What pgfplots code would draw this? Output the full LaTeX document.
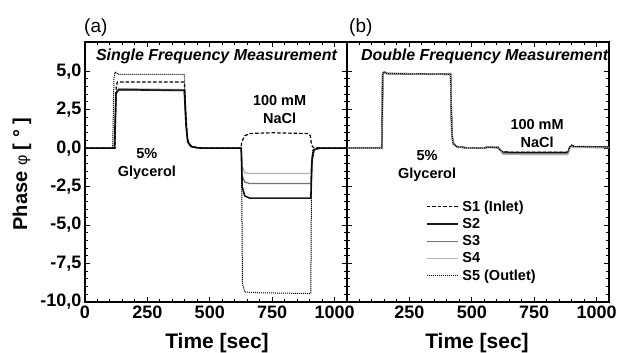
\documentclass[border=0pt]{standalone}
\usepackage{fontspec}
\setmainfont{Liberation Sans}
\usepackage{pgfplots}
\pgfplotsset{compat=1.18}
\pgfplotsset{
  myax/.style={
    scale only axis, width=262pt, height=260pt,
    xmin=0, xmax=1050, ymin=-10, ymax=6.9,
    axis line style={line width=1.3pt},
    tick align=inside, tick pos=both,
    major tick length=5pt, minor tick length=3pt,
    every tick/.style={black, line width=1pt},
    xtick={0,250,500,750,1000},
    minor x tick num=4,
    ytick={-10,-7.5,-5,-2.5,0,2.5,5},
    minor y tick num=4,
    ticklabel style={font=\fontsize{18}{18}\selectfont\bfseries},
    clip=true,
  },
  s1/.style={black, line width=1.2pt, dash pattern=on 3.5pt off 2pt},
  s2/.style={black!90, line width=1.6pt},
  s3/.style={black!55, line width=1.3pt},
  s4/.style={black!30, line width=1.3pt},
  s5/.style={black, line width=1pt, dash pattern=on 1.1pt off 0.9pt},
}
\newcommand{\lab}{\fontsize{14.5}{18}\selectfont\bfseries}
\begin{document}
\begin{tikzpicture}
\path[use as bounding box] (-85pt,-51pt) rectangle (533pt,302pt);
% ---------------- panel (a)
\begin{axis}[myax, at={(0pt,0pt)}, anchor=south west,
  yticklabels={{-10,0},{-7,5},{-5,0},{-2,5},{0,0},{2,5},{5,0}},
  xticklabels={0,250,500,750,1000}]
\addplot[s4] coordinates {(0,0)(119,0)(125,3.5)(135,3.75)(398,3.75)(405,1.4)(412,0.4)(425,0.1)(460,0)(626,0)(630,-1.2)(640,-1.6)(660,-1.65)(905,-1.65)(910,-0.5)(918,-0.1)(940,0)(1050,0)};
\addplot[s3] coordinates {(0,0)(119,0)(125,3.6)(135,3.85)(398,3.8)(405,1.5)(412,0.4)(425,0.1)(460,0)(626,0)(630,-1.8)(640,-2.2)(660,-2.3)(905,-2.3)(910,-0.6)(918,-0.1)(940,0)(1050,0)};
\addplot[s2] coordinates {(0,0)(118,0)(124,3.6)(135,3.8)(398,3.75)(405,1.5)(412,0.4)(425,0.1)(460,0)(626,0)(630,-2.5)(640,-3.1)(660,-3.25)(905,-3.25)(910,-0.8)(918,-0.1)(940,0)(1050,0)};
\addplot[s1] coordinates {(0,0)(120,0)(125,4.0)(130,4.3)(398,4.3)(405,2.0)(410,0.6)(420,0.2)(440,0.05)(480,0)(625,0)(628,0.4)(640,0.8)(660,0.95)(750,1.0)(895,0.95)(903,0.8)(908,0.2)(915,0.05)(950,0)(1050,0)};
\addplot[s5] coordinates {(0,0)(111,0)(116,4.5)(120,4.95)(135,4.8)(398,4.8)(405,2.0)(410,0.6)(420,0.2)(440,0.05)(480,0)(627,0)(631,-8.8)(640,-9.35)(700,-9.4)(900,-9.45)(905,-9.4)(908,-1)(913,-0.1)(940,0)(1050,0)};
\node[anchor=west, font=\fontsize{16}{16}\selectfont\bfseries\itshape] at (axis cs:30,5.95) {Single Frequency Measurement};
\node[align=center, font=\lab] at (axis cs:248,-1.05) {5\%\\Glycerol};
\node[align=center, font=\lab] at (axis cs:780,2.5) {100 mM\\NaCl};
\end{axis}
% ---------------- panel (b)
\begin{axis}[myax, at={(262pt,0pt)}, anchor=south west,
  yticklabels={},
  xticklabels={{},250,500,750,1000},
  legend style={draw=none, fill=none, at={(0.30,0.395)}, anchor=north west,
    font=\lab, row sep=3.2pt, inner sep=0pt, nodes={inner xsep=4pt, inner ysep=1.2pt}},
  legend cell align=left,
  legend image code/.code={\draw[#1] (0pt,0pt) -- (31pt,0pt);}]
\addplot[s1] coordinates {(0,0)(140,0)(143,4.85)(150,4.95)(160,4.85)(415,4.8)(420,1)(425,0.3)(440,0.1)(480,0.02)(550,0)(560,0.08)(605,0.05)(615,-0.12)(625,-0.25)(700,-0.27)(885,-0.27)(893,0.1)(900,0.2)(910,0.12)(1050,0.08)};
\addplot[s2] coordinates {(0,0)(140,0)(143,4.85)(150,4.95)(160,4.85)(415,4.8)(420,1)(425,0.3)(440,0.1)(480,0.02)(550,0)(560,0.06)(605,0.04)(615,-0.15)(625,-0.28)(700,-0.3)(885,-0.3)(893,0.05)(900,0.15)(910,0.08)(1050,0.05)};
\addplot[s3] coordinates {(0,0)(140,0)(143,4.85)(150,4.95)(160,4.85)(415,4.8)(420,1)(425,0.3)(440,0.1)(480,0.02)(550,0)(560,0.1)(605,0.08)(615,-0.15)(625,-0.32)(700,-0.35)(885,-0.35)(893,0.05)(900,0.15)(910,0.1)(1050,0.06)};
\addplot[s4] coordinates {(0,0)(140,0)(143,4.85)(150,4.95)(160,4.85)(415,4.8)(420,1)(425,0.3)(440,0.1)(480,0.02)(550,0)(560,0.1)(605,0.08)(615,-0.2)(625,-0.4)(700,-0.42)(885,-0.42)(893,0.0)(900,0.1)(910,0.05)(1050,0.02)};
\addplot[s5] coordinates {(0,0)(140,0)(143,4.85)(150,4.95)(160,4.85)(415,4.8)(420,1)(425,0.3)(440,0.1)(480,0.02)(550,0)(560,0.07)(605,0.05)(615,-0.13)(625,-0.26)(700,-0.28)(885,-0.28)(893,0.08)(900,0.18)(910,0.1)(1050,0.07)};
\legend{S1 (Inlet),S2,S3,S4,S5 (Outlet)}
\node[anchor=west, font=\fontsize{16}{16}\selectfont\bfseries\itshape] at (axis cs:42,5.95) {Double Frequency Measurement};
\node[align=center, font=\lab] at (axis cs:321,-1.15) {5\%\\Glycerol};
\node[align=center, font=\lab] at (axis cs:762,0.95) {100 mM\\NaCl};
\end{axis}
% ---------------- labels
\node[anchor=west, font=\fontsize{19}{19}\selectfont, inner sep=0pt] at (-1pt,274pt) {(a)};
\node[anchor=west, font=\fontsize{19}{19}\selectfont, inner sep=0pt] at (264pt,274pt) {(b)};
\node[rotate=90, font=\fontsize{20}{20}\selectfont\bfseries] at (-63pt,128pt) {Phase {\mdseries\fontsize{16}{16}\selectfont φ} [ ° ]};
\node[font=\fontsize{21}{21}\selectfont\bfseries] at (132pt,-41pt) {Time [sec]};
\node[font=\fontsize{21}{21}\selectfont\bfseries] at (392pt,-41pt) {Time [sec]};
\end{tikzpicture}
\end{document}
